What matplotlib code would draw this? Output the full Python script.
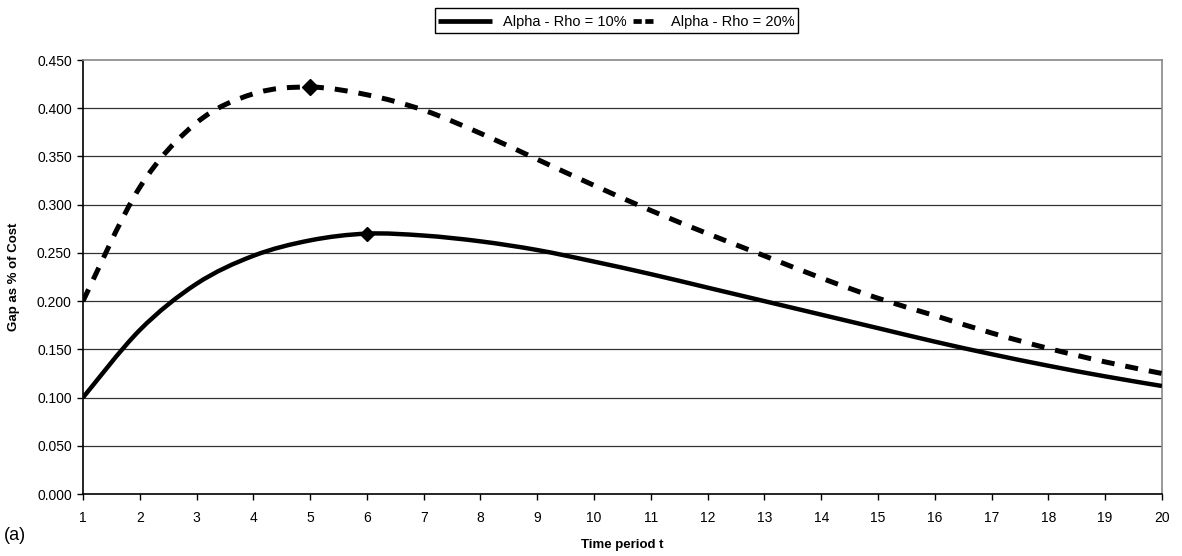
import matplotlib
matplotlib.use("Agg")
import matplotlib.pyplot as plt
from matplotlib.path import Path
from matplotlib.patches import PathPatch, Rectangle
from matplotlib.lines import Line2D
import numpy as np

plt.rcParams['font.family'] = ['Liberation Sans', 'DejaVu Sans']

periods = list(range(1, 21))
gap_10 = [0.100, 0.170, 0.218, 0.247, 0.263, 0.270, 0.268, 0.262, 0.253, 0.241,
          0.228, 0.214, 0.200, 0.186, 0.172, 0.158, 0.145, 0.133, 0.122, 0.112]
gap_20 = [0.200, 0.318, 0.385, 0.415, 0.422, 0.414, 0.398, 0.374, 0.347, 0.320,
          0.294, 0.270, 0.247, 0.224, 0.203, 0.185, 0.167, 0.151, 0.137, 0.125]
label_10 = "Alpha - Rho = 10%"
label_20 = "Alpha - Rho = 20%"
yticks = [0.000, 0.050, 0.100, 0.150, 0.200, 0.250, 0.300, 0.350, 0.400, 0.450]

W, H = 1182, 556


def smooth_path(xs, ys):
    """Bezier path through every point (Catmull-Rom tangents), like a smoothed line."""
    p = np.column_stack([xs, ys]).astype(float)
    ext = np.vstack([p[0], p, p[-1]])
    verts = [p[0]]
    codes = [Path.MOVETO]
    for i in range(len(p) - 1):
        a, b, c, d = ext[i], ext[i + 1], ext[i + 2], ext[i + 3]
        verts += [b + (c - a) / 6.0, c - (d - b) / 6.0, c]
        codes += [Path.CURVE4] * 3
    return Path(verts, codes)


def fx(px):
    return px / W


def fy(py):
    return 1 - py / H


fig = plt.figure(figsize=(W / 100, H / 100), dpi=100)
ax = fig.add_axes([0.0702, 0.1115, 0.9128, 0.7805])

for y in yticks[1:-1]:
    ax.axhline(y, color='#333333', lw=0.9, zorder=1)

solid = PathPatch(smooth_path(periods, gap_10), facecolor='none',
                  edgecolor='black', lw=3.2, capstyle='butt', zorder=3)
dashed = PathPatch(smooth_path(periods, gap_20), facecolor='none',
                   edgecolor='black', lw=3.6, linestyle=(0, (2.6, 2.2)),
                   capstyle='butt', zorder=3)
ax.add_patch(solid)
ax.add_patch(dashed)

# mark the peak of each series
i10 = int(np.argmax(gap_10))
i20 = int(np.argmax(gap_20))
ax.plot([periods[i10]], [gap_10[i10]], marker='D', color='black', ms=7, zorder=4)
ax.plot([periods[i20]], [gap_20[i20]], marker='D', color='black', ms=8, zorder=4)

ax.set_xlim(1, 20)
ax.set_ylim(0, 0.45)
ax.set_xticks(periods)
ax.set_yticks(yticks)
ax.set_yticklabels([f"{v:.3f}" for v in yticks])
ax.tick_params(axis='both', direction='out', length=4, width=1, labelsize=10,
               colors='black')
ax.tick_params(axis='x', pad=8)
ax.tick_params(axis='y', pad=4)

for s in ('top', 'right'):
    ax.spines[s].set_color('#888888')
    ax.spines[s].set_linewidth(1.2)
for s in ('left', 'bottom'):
    ax.spines[s].set_color('black')
    ax.spines[s].set_linewidth(1.2)

ax.set_ylabel("Gap as % of Cost", fontsize=9.5, fontweight='bold', labelpad=12)
ax.set_xlabel("Time period t", fontsize=9.5, fontweight='bold', labelpad=10)

# legend box above the plot: long solid sample, short two-dash sample
yc = fy(20.5)
fig.patches.append(Rectangle((fx(435), fy(33)), fx(798) - fx(435), fy(8) - fy(33),
                             transform=fig.transFigure, facecolor='white',
                             edgecolor='black', lw=1.0, zorder=5))
fig.lines.append(Line2D([fx(438), fx(492)], [yc, yc], transform=fig.transFigure,
                        color='black', lw=3.4, solid_capstyle='butt', zorder=6))
fig.lines.append(Line2D([fx(633), fx(653)], [yc, yc], transform=fig.transFigure,
                        color='black', lw=3.4, dashes=(1.75, 0.75),
                        dash_capstyle='butt', zorder=6))
fig.text(fx(503), yc, label_10, fontsize=10.5, ha='left', va='center_baseline',
         zorder=7)
fig.text(fx(671), yc, label_20, fontsize=10.5, ha='left', va='center_baseline',
         zorder=7)

fig.text(0.003, 0.022, "(a)", fontsize=13, ha='left', va='bottom')

fig.savefig("out.png", dpi=100)
